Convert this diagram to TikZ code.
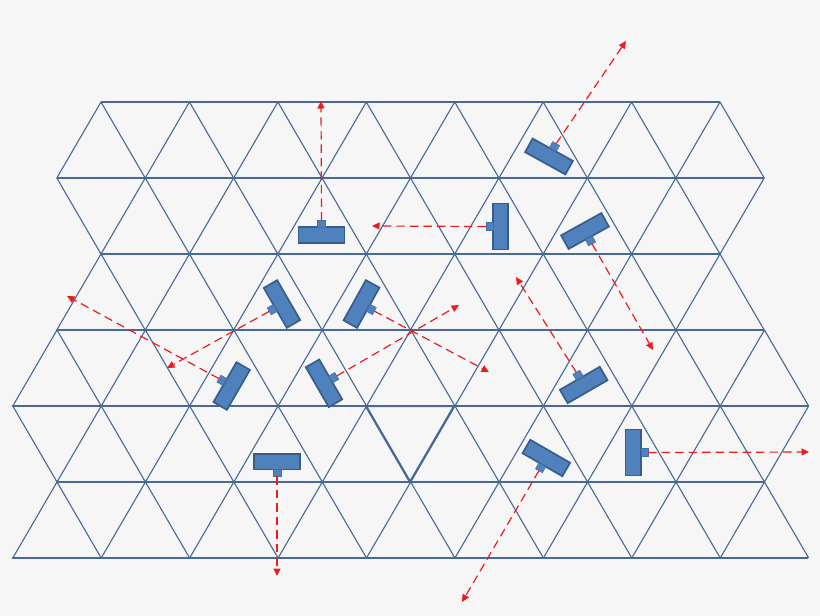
\documentclass[tikz,border=0pt]{standalone}
\usetikzlibrary{arrows.meta}
\definecolor{bg}{RGB}{246,246,246}
\definecolor{gridc}{RGB}{72,104,150}
\definecolor{camfill}{RGB}{79,129,189}
\definecolor{camline}{RGB}{56,93,138}
\definecolor{rayc}{RGB}{236,28,28}
\newcommand\drawcam[5]{%
  \node[cam, rotate=#4] (cam#1) at (#2,#3) {};
  \node[lens, rotate=#4] (lens#1) at (cam#1.north) {};
  \coordinate (end#1) at #5;
  \draw[ray] (lens#1.north) -- (end#1);
}
\begin{document}
\begin{tikzpicture}[x=1pt,y=-1pt,
  gridline/.style={draw=gridc, line width=1.1pt, line join=round},
  cam/.style={draw=camline, fill=camfill, line width=1.7pt, minimum width=46pt, minimum height=15.5pt, inner sep=0pt, outer sep=0pt},
  lens/.style={fill=camfill, draw=camfill!85!black, line width=0.5pt, minimum width=8pt, minimum height=7pt, inner sep=0pt, outer sep=0pt, anchor=south},
  ray/.style={draw=rayc, line width=1.2pt, dash pattern=on 8.5pt off 5pt, -{Triangle[length=7.5pt,width=7pt]}}]
\path[use as bounding box, fill=bg] (0,0) rectangle (820,616);
% horizontal lines
\foreach \y/\a/\b in {102/101/720, 178/57/764.4, 254/101/720, 330/57/764.4, 406/12/807.9, 482/57/764.4, 558/12/807.9}
  \draw[gridline] (\a,\y) -- (\b,\y);
% diagonals
\foreach \yn/\yw/\xs/\n in {102/178/101/8, 254/178/101/8, 254/330/101/8, 330/406/57/9, 482/406/57/9, 482/558/57/9} {
  \foreach \i in {1,...,\n} {
    \pgfmathsetmacro\xx{\xs+(\i-1)*88.43}
    \draw[gridline] (\xx-44.215,\yw) -- (\xx,\yn) -- (\xx+44.215,\yw);
  }
}
% highlighted triangle
\draw[gridline, line width=2pt] (365.72,406) -- (454.15,406) -- (409.94,482) -- cycle;
% cameras and rays
\drawcam{1}{321.5}{235}{0}{(321,101)}
\drawcam{2}{500.5}{226.5}{90}{(372,226)}
\drawcam{3}{549}{156.5}{-29}{(626,41)}
\drawcam{4}{585}{231}{-151}{(653,350)}
\drawcam{5}{282}{304}{120}{(167,368)}
\drawcam{6}{361.5}{304}{-119}{(489,372)}
\drawcam{7}{231.7}{386}{60}{(67,296)}
\drawcam{8}{324}{383.3}{-60}{(459,305)}
\drawcam{9}{583.7}{385}{30}{(516,277)}
\drawcam{10}{633.3}{452.5}{-90}{(809,452)}
\drawcam{11}{546.3}{458}{150}{(462,602)}
\drawcam{12}{277}{461.7}{180}{(277,576)}
\end{tikzpicture}
\end{document}
